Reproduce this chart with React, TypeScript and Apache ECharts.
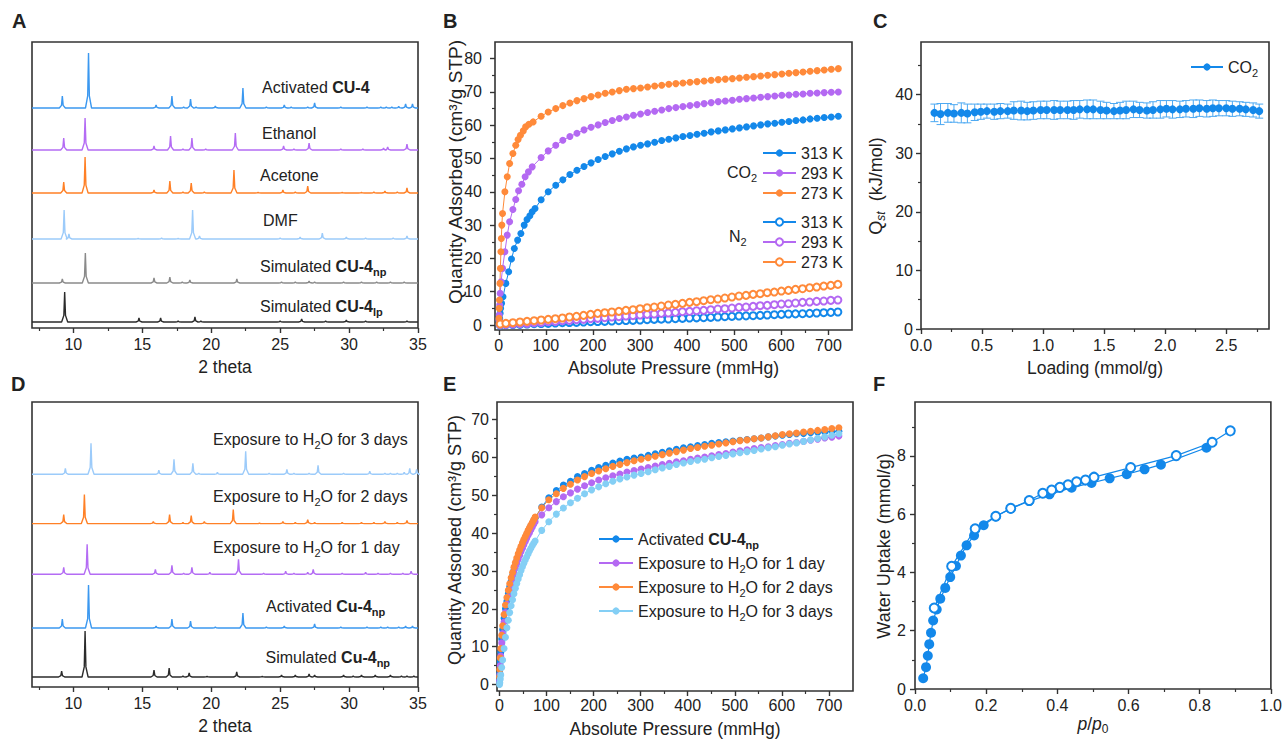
import React, { useEffect, useRef } from 'react';
import * as echarts from 'echarts';

const FONT = '"Liberation Sans", Arial, Helvetica, sans-serif';
const TXT = '#222222';
const AXIS = '#333333';

// ---------- colours ----------
const XRD_BLUE = '#3b98f0';
const XRD_PURPLE = '#b46cf4';
const XRD_ORANGE = '#ff8026';
const XRD_LIGHT = '#9ccbfa';
const XRD_GRAY = '#8a8a8a';
const XRD_BLACK = '#2b2b2b';
const BLUE = '#1388ea';
const PURPLE = '#b469f2';
const ORANGE = '#ff8a3a';
const SKY = '#84cff5';
const ERR = '#4da9f2';

// ---------- Panel A: PXRD (peak position, peak height) ----------
const A_ACTIVATED_BASE = 220;
const A_ACTIVATED = [[9.2, 12], [11.1, 55], [16.0, 3], [17.15, 12], [18.0, 1], [18.5, 9], [18.9, 1], [20.3, 2], [22.3, 20], [24.0, 1], [25.3, 3], [25.8, 1], [27.0, 1], [27.5, 5], [29.4, 1], [31.3, 1], [32.3, 1], [32.7, 1], [33.1, 1], [33.6, 1.5], [34.1, 4], [34.6, 4]];
const A_ETHANOL_BASE = 178;
const A_ETHANOL = [[9.3, 12], [10.85, 32], [15.85, 4], [17.05, 14], [17.95, 1], [18.6, 12], [19.6, 1], [21.75, 17], [25.25, 4], [26.0, 1], [27.1, 7], [29.4, 1], [31.0, 1], [32.5, 2], [32.8, 3], [34.2, 6]];
const A_ACETONE_BASE = 135;
const A_ACETONE = [[9.3, 11], [10.85, 36], [15.85, 3], [17.0, 12], [17.95, 1], [18.55, 10], [19.5, 1], [21.65, 23], [23.4, 0.5], [25.2, 3], [26.1, 1], [27.0, 7], [29.5, 0.5], [30.9, 0.5], [31.8, 1], [32.6, 2], [33.5, 1], [34.2, 5]];
const A_DMF_BASE = 89;
const A_DMF = [[9.33, 29], [9.68, 5], [14.7, 0.5], [16.4, 1], [17.6, 0.5], [18.65, 29], [19.15, 3], [25.0, 1], [26.45, 2], [28.06, 6], [29.8, 2], [31.2, 1], [33.2, 1], [34.2, 3]];
const A_SIMNP_BASE = 45;
const A_SIMNP = [[9.2, 4], [10.87, 30], [15.85, 5], [17.0, 6], [17.9, 1], [18.45, 3], [21.86, 4], [25.1, 1], [26.1, 1], [27.1, 2], [27.5, 1], [29.6, 1], [30.9, 1], [32.0, 1], [33.0, 1], [34.0, 1]];
const A_SIMLP_BASE = 6;
const A_SIMLP = [[9.37, 30], [14.76, 4], [16.33, 4], [17.6, 1], [18.82, 5], [19.25, 1], [25.0, 1], [26.56, 3], [28.3, 1], [29.8, 2], [31.2, 1], [34.2, 1]];

// ---------- Panel D: PXRD after water exposure ----------
const D_DAY3_BASE = 212.7;
const D_DAY3 = [[9.42, 6], [11.28, 31], [16.2, 4], [17.3, 15], [18.67, 11], [19.1, 1], [20.45, 2], [22.5, 23], [24.2, 1], [25.49, 5], [26.0, 1], [27.1, 1], [27.75, 9], [29.6, 1], [31.5, 3], [32.6, 1], [33.0, 1], [33.5, 1], [34.0, 2], [34.4, 6], [34.9, 5]];
const D_DAY2_BASE = 163.4;
const D_DAY2 = [[9.3, 9], [10.8, 29], [15.8, 2], [16.98, 9], [17.95, 1], [18.55, 8], [19.5, 2], [21.6, 14], [23.5, 0.5], [25.2, 2], [26.1, 1], [27.0, 4], [27.5, 1], [29.5, 1], [30.9, 1], [31.8, 1], [32.6, 2], [33.5, 1], [34.2, 3]];
const D_DAY1_BASE = 112.7;
const D_DAY1 = [[9.3, 7], [11.0, 30], [15.95, 5], [17.15, 9], [18.0, 1], [18.6, 7], [19.9, 2], [21.98, 15], [23.8, 1], [25.4, 3], [26.0, 1], [27.0, 2], [27.4, 5], [29.5, 1], [31.2, 2], [32.1, 1], [33.0, 1], [33.9, 1], [34.5, 3]];
const D_ACT_BASE = 59;
const D_ACT = [[9.2, 9], [11.1, 43], [16.0, 2], [17.15, 9], [18.5, 7], [20.3, 1], [22.3, 15], [24.0, 1], [25.3, 2], [27.5, 4], [29.4, 1], [31.3, 1], [32.3, 1], [32.8, 1], [33.6, 1], [34.1, 2], [34.6, 2]];
const D_SIM_BASE = 10;
const D_SIM = [[9.15, 6], [10.85, 46], [15.85, 7], [16.95, 9], [17.95, 1], [18.4, 4], [19.7, 0.5], [21.85, 5], [23.7, 0.5], [25.1, 2], [26.1, 2], [27.1, 3], [27.5, 2], [29.6, 2], [30.3, 1], [30.9, 2], [31.9, 2], [33.0, 2], [33.8, 1], [34.2, 1], [34.7, 1]];

// ---------- Panel B: CO2 / N2 isotherms ----------
const P_HIGH = [90, 105, 121, 136, 151, 166, 181, 196, 211, 226, 241, 256, 271, 286, 301, 316, 331, 346, 361, 376, 391, 406, 421, 436, 451, 466, 481, 496, 511, 526, 541, 556, 571, 586, 601, 616, 631, 646, 661, 676, 691, 706, 721];
const P_CO2_273_LOW = [0.5, 1, 1.5, 2.5, 3.5, 4.5, 5.5, 6.5, 8, 13, 18, 23, 30, 36, 41, 46, 52, 57, 64, 73];
const Q_CO2_273_LOW = [2, 5, 7.5, 12.5, 17, 22, 26, 30, 33.5, 40, 44.5, 48.5, 51.5, 54, 55.7, 57, 58.3, 59.5, 60.3, 61];
const Q_CO2_273_HIGH = [62.7, 64, 65, 65.9, 66.7, 67.4, 68, 68.6, 69.1, 69.6, 70, 70.4, 70.8, 71, 71.2, 71.5, 71.8, 72, 72.3, 72.5, 72.7, 72.9, 73.1, 73.3, 73.5, 73.7, 73.85, 74, 74.2, 74.4, 74.6, 74.8, 75, 75.2, 75.4, 75.6, 75.8, 76, 76.2, 76.4, 76.6, 76.8, 77];
const P_CO2_293_LOW = [0.5, 1, 2, 3, 5, 8, 13, 18, 23, 30, 36, 42, 49, 56, 63, 71];
const Q_CO2_293_LOW = [1.5, 3, 6, 9.5, 13, 17, 22, 27, 31, 34.7, 37.7, 40.3, 42.3, 44.5, 46, 47.5];
const Q_CO2_293_HIGH = [50.3, 52.3, 54, 55.5, 56.6, 57.6, 58.6, 59.4, 60.1, 60.8, 61.4, 62, 62.5, 63, 63.4, 63.8, 64.2, 64.6, 65, 65.3, 65.6, 65.9, 66.2, 66.5, 66.8, 67.1, 67.3, 67.5, 67.8, 68, 68.2, 68.4, 68.6, 68.8, 69, 69.1, 69.3, 69.4, 69.6, 69.7, 69.8, 69.9, 70];
const P_CO2_313_LOW = [1, 2, 3, 4, 6, 9, 15, 21, 27, 33, 40, 47, 54, 60, 66, 71, 77];
const Q_CO2_313_LOW = [1, 2, 3.5, 5, 6.5, 8.5, 12.5, 16, 19.8, 23, 25.5, 27.5, 30, 31.7, 32.8, 34, 35];
const Q_CO2_313_HIGH = [37.6, 40, 42, 43.6, 45.2, 46.5, 47.6, 48.7, 49.7, 50.6, 51.4, 52.2, 52.9, 53.5, 54, 54.4, 54.9, 55.4, 55.8, 56.2, 56.6, 56.9, 57.3, 57.6, 58, 58.3, 58.6, 58.9, 59.2, 59.5, 59.8, 60.1, 60.4, 60.6, 60.9, 61.1, 61.4, 61.6, 61.9, 62.1, 62.3, 62.5, 62.7];
const P_N2 = [3, 15, 30, 45, 60, 75, 90, 105, 120, 135, 150, 165, 180, 195, 210, 225, 240, 255, 270, 285, 300, 315, 330, 345, 360, 375, 390, 405, 420, 435, 450, 465, 480, 495, 510, 525, 540, 555, 570, 585, 600, 615, 630, 645, 660, 675, 690, 705, 720];
const Q_N2_273 = [0.3, 0.5, 0.7, 0.9, 1.1, 1.3, 1.5, 1.7, 1.9, 2.1, 2.4, 2.6, 2.9, 3.2, 3.5, 3.7, 3.9, 4.1, 4.4, 4.6, 4.9, 5.2, 5.4, 5.7, 6.0, 6.2, 6.5, 6.8, 7.0, 7.3, 7.6, 7.8, 8.1, 8.4, 8.7, 8.9, 9.2, 9.4, 9.7, 9.9, 10.2, 10.4, 10.7, 10.9, 11.2, 11.4, 11.7, 11.9, 12.2];
const Q_N2_293 = [0.1, 0.2, 0.3, 0.4, 0.5, 0.7, 0.8, 1.0, 1.1, 1.3, 1.4, 1.6, 1.7, 1.9, 2.0, 2.2, 2.4, 2.5, 2.7, 2.8, 3.0, 3.2, 3.3, 3.5, 3.6, 3.8, 4.0, 4.1, 4.3, 4.4, 4.6, 4.8, 4.9, 5.1, 5.3, 5.4, 5.6, 5.8, 5.9, 6.1, 6.3, 6.4, 6.6, 6.8, 6.9, 7.1, 7.2, 7.4, 7.5];
const Q_N2_313 = [0, 0.1, 0.15, 0.2, 0.3, 0.4, 0.45, 0.5, 0.6, 0.7, 0.75, 0.8, 0.9, 1.0, 1.05, 1.1, 1.2, 1.3, 1.35, 1.4, 1.5, 1.6, 1.7, 1.75, 1.8, 1.9, 2.0, 2.1, 2.15, 2.2, 2.3, 2.4, 2.5, 2.6, 2.7, 2.75, 2.8, 2.9, 3.0, 3.1, 3.2, 3.3, 3.35, 3.4, 3.5, 3.6, 3.7, 3.8, 3.9];

// ---------- Panel C: isosteric heat ----------
const LOADING = [0.11, 0.16, 0.22, 0.27, 0.33, 0.38, 0.44, 0.49, 0.54, 0.60, 0.65, 0.71, 0.76, 0.82, 0.87, 0.92, 0.98, 1.03, 1.09, 1.14, 1.20, 1.25, 1.30, 1.36, 1.41, 1.47, 1.52, 1.58, 1.63, 1.68, 1.74, 1.79, 1.85, 1.90, 1.96, 2.01, 2.06, 2.12, 2.17, 2.23, 2.28, 2.34, 2.39, 2.44, 2.50, 2.55, 2.61, 2.66, 2.72, 2.77];
const QST = [36.9, 36.7, 36.9, 36.8, 36.9, 36.8, 37.0, 37.1, 37.2, 37.1, 37.2, 37.2, 37.3, 37.3, 37.2, 37.3, 37.4, 37.4, 37.4, 37.4, 37.4, 37.4, 37.5, 37.5, 37.5, 37.4, 37.3, 37.2, 37.3, 37.4, 37.5, 37.4, 37.3, 37.4, 37.5, 37.6, 37.5, 37.5, 37.6, 37.6, 37.7, 37.6, 37.7, 37.7, 37.7, 37.6, 37.6, 37.5, 37.4, 37.2];
const QST_ERR = [1.5, 1.8, 1.6, 1.5, 1.7, 1.6, 1.4, 1.3, 1.2, 1.3, 1.3, 1.2, 1.5, 1.6, 1.5, 1.5, 1.5, 1.5, 1.6, 1.5, 1.5, 1.6, 1.5, 1.6, 1.6, 1.5, 1.4, 1.3, 1.4, 1.5, 1.4, 1.3, 1.3, 1.4, 1.5, 1.4, 1.5, 1.4, 1.4, 1.5, 1.4, 1.4, 1.4, 1.3, 1.3, 1.3, 1.2, 1.2, 1.2, 1.2];

// ---------- Panel E: CO2 isotherms after water exposure ----------
const P_E_LOW = [0.5, 1, 2, 3, 5, 7, 10, 13, 16, 19, 22, 25, 28, 31, 34, 37, 40, 43, 46, 49, 52, 55, 58, 61, 64, 67, 70, 73, 76];
const E_ACT_LOW = [1, 3, 6, 8.5, 12, 14.5, 17.5, 20, 22, 24, 25.8, 27.3, 28.8, 30.2, 31.5, 32.7, 33.8, 34.9, 35.9, 36.9, 37.8, 38.7, 39.5, 40.3, 41.1, 41.9, 42.6, 43.3, 44];
const E_ACT_HIGH = [46.9, 49.3, 51.2, 52.7, 53.7, 54.9, 55.7, 56.6, 57.3, 57.9, 58.5, 59, 59.5, 59.8, 60.1, 60.5, 60.9, 61.3, 61.7, 62.1, 62.5, 62.8, 63.1, 63.4, 63.7, 63.9, 64.1, 64.3, 64.5, 64.7, 64.9, 65.1, 65.4, 65.6, 65.8, 66, 66.2, 66.3, 66.5, 66.6, 66.7, 66.8, 66.9];
const E_DAY1_LOW = [1, 2.5, 5, 7.5, 11, 13.5, 16.5, 19, 21.2, 23.2, 25, 26.6, 28, 29.4, 30.7, 31.9, 33, 34.1, 35.1, 36, 36.9, 37.8, 38.6, 39.4, 40.1, 40.9, 41.6, 42.3, 43];
const E_DAY1_HIGH = [44.8, 46.7, 48.3, 49.6, 50.6, 51.6, 52.5, 53.3, 54, 54.6, 55.1, 55.6, 56.1, 56.5, 56.9, 57.3, 57.7, 58.1, 58.4, 58.8, 59.1, 59.5, 59.8, 60.1, 60.4, 60.7, 61, 61.4, 61.7, 62, 62.3, 62.6, 62.8, 63.1, 63.4, 63.7, 63.9, 64.2, 64.5, 64.8, 65.1, 65.3, 65.6];
const E_DAY2_LOW = [2, 4, 7, 9.5, 13, 15.5, 18.5, 21, 23, 24.9, 26.6, 28.2, 29.6, 31, 32.2, 33.4, 34.5, 35.5, 36.5, 37.4, 38.3, 39.1, 39.9, 40.7, 41.4, 42.1, 42.8, 43.5, 44.2];
const E_DAY2_HIGH = [46.7, 48.8, 50.4, 51.8, 52.9, 54, 54.9, 55.7, 56.4, 57, 57.6, 58.1, 58.6, 59.1, 59.5, 59.9, 60.3, 60.7, 61.1, 61.5, 61.9, 62.3, 62.6, 62.9, 63.2, 63.5, 63.8, 64.1, 64.4, 64.6, 64.9, 65.1, 65.4, 65.7, 66, 66.2, 66.4, 66.7, 66.9, 67.1, 67.3, 67.6, 67.8];
const E_DAY3_LOW = [0, 0.5, 1.5, 2.5, 4.5, 6.5, 9.5, 12.5, 15, 17, 19, 20.8, 22.4, 24, 25.4, 26.7, 27.9, 29, 30.1, 31.1, 32, 32.9, 33.7, 34.5, 35.3, 36, 36.7, 37.3, 37.9];
const E_DAY3_HIGH = [40.7, 43, 45, 46.6, 48, 49.2, 50.4, 51.4, 52.2, 53, 53.7, 54.3, 54.8, 55.3, 55.7, 56.2, 56.7, 57.2, 57.6, 58.1, 58.5, 58.9, 59.2, 59.5, 59.9, 60.2, 60.5, 60.9, 61.2, 61.5, 61.8, 62.2, 62.5, 62.8, 63.2, 63.5, 63.8, 64.2, 64.6, 65, 65.4, 65.8, 66.2];

// ---------- Panel F: water isotherm ----------
const F_ADS_X = [0.023, 0.031, 0.036, 0.040, 0.045, 0.051, 0.061, 0.071, 0.085, 0.099, 0.115, 0.129, 0.145, 0.166, 0.193, 0.227, 0.269, 0.321, 0.378, 0.440, 0.496, 0.547, 0.595, 0.645, 0.691, 0.819];
const F_ADS_Y = [0.37, 0.75, 1.14, 1.54, 1.93, 2.35, 2.73, 3.10, 3.47, 3.84, 4.22, 4.58, 4.93, 5.27, 5.62, 5.92, 6.19, 6.45, 6.68, 6.91, 7.07, 7.23, 7.37, 7.54, 7.70, 8.28];
const F_DES_X = [0.886, 0.835, 0.734, 0.606, 0.503, 0.479, 0.454, 0.430, 0.407, 0.384, 0.359, 0.321, 0.269, 0.227, 0.169, 0.103, 0.054];
const F_DES_Y = [8.86, 8.47, 8.01, 7.60, 7.27, 7.17, 7.11, 7.01, 6.92, 6.83, 6.72, 6.47, 6.20, 5.93, 5.50, 4.21, 2.78];

// ---------- ticks ----------
const XRD_MAJOR = [10, 15, 20, 25, 30, 35];
const XRD_MINOR = [7.5, 12.5, 17.5, 22.5, 27.5, 32.5];
const P_MAJOR = [0, 100, 200, 300, 400, 500, 600, 700];
const P_MINOR = [50, 150, 250, 350, 450, 550, 650];
const B_Y_MAJOR = [0, 10, 20, 30, 40, 50, 60, 70, 80];
const B_Y_MINOR = [5, 15, 25, 35, 45, 55, 65, 75];
const C_X_MAJOR = [0, 0.5, 1.0, 1.5, 2.0, 2.5];
const C_X_MINOR = [0.25, 0.75, 1.25, 1.75, 2.25, 2.75];
const C_Y_MAJOR = [0, 10, 20, 30, 40];
const C_Y_MINOR = [5, 15, 25, 35, 45];
const E_Y_MAJOR = [0, 10, 20, 30, 40, 50, 60, 70];
const E_Y_MINOR = [5, 15, 25, 35, 45, 55, 65];
const F_X_MAJOR = [0, 0.2, 0.4, 0.6, 0.8, 1.0];
const F_X_MINOR = [0.1, 0.3, 0.5, 0.7, 0.9];
const F_Y_MAJOR = [0, 2, 4, 6, 8];
const F_Y_MINOR = [1, 3, 5, 7, 9];

const PEAK_HALF = 0.22;
const PEAK_SHOULDER = 0.06;

function buildPattern(base: number, peaks: number[][]): number[][] {
  const pts: number[][] = [[7, base]];
  for (const [p, h] of peaks) {
    pts.push([p - PEAK_HALF, base], [p - PEAK_SHOULDER, base + h * 0.22], [p, base + h], [p + PEAK_SHOULDER, base + h * 0.22], [p + PEAK_HALF, base]);
  }
  pts.push([35, base]);
  return pts;
}

function zip(xs: number[], ys: number[]): number[][] {
  return xs.map((x, i) => [x, ys[i]]);
}

const RICH_ZR: any = {
  b: { fontSize: 16, fontFamily: FONT, fontWeight: 'bold', fill: TXT, lineHeight: 22 },
  s: { fontSize: 11, fontFamily: FONT, fill: TXT, lineHeight: 12, verticalAlign: 'bottom' },
  bs: { fontSize: 11, fontFamily: FONT, fontWeight: 'bold', fill: TXT, lineHeight: 12, verticalAlign: 'bottom' },
  i: { fontSize: 18, fontFamily: FONT, fontStyle: 'italic', fill: TXT, lineHeight: 22 },
  si: { fontSize: 12, fontFamily: FONT, fontStyle: 'italic', fill: TXT, lineHeight: 12, verticalAlign: 'bottom' },
};

const RICH_EC: any = {
  b: { fontSize: 16, fontFamily: FONT, fontWeight: 'bold', color: TXT, lineHeight: 22 },
  s: { fontSize: 11, fontFamily: FONT, color: TXT, lineHeight: 12, verticalAlign: 'bottom' },
  bs: { fontSize: 11, fontFamily: FONT, fontWeight: 'bold', color: TXT, lineHeight: 12, verticalAlign: 'bottom' },
  i: { fontSize: 17.5, fontFamily: FONT, fontStyle: 'italic', color: TXT, lineHeight: 22 },
  s0: { fontSize: 12, fontFamily: FONT, color: TXT, lineHeight: 12, verticalAlign: 'bottom' },
};

function textEl(x: number, y: number, text: string, size = 16, weight: any = 'normal', rotation = 0, align: any = 'left') {
  return {
    type: 'text', x, y, rotation, silent: true, z: 100,
    style: { text, fill: TXT, fontSize: size, fontFamily: FONT, fontWeight: weight, align, verticalAlign: 'middle', lineHeight: 22, rich: RICH_ZR },
  };
}

function buildOption(): any {
  const grid = [
    { left: 32, top: 42, width: 386, height: 286 },
    { left: 495, top: 42, width: 357, height: 288 },
    { left: 921, top: 42, width: 348, height: 287 },
    { left: 32, top: 402, width: 386, height: 285 },
    { left: 497, top: 402, width: 356, height: 289 },
    { left: 915, top: 402, width: 357, height: 287 },
  ].map((g) => ({ ...g, show: true, borderColor: AXIS, borderWidth: 1.6, backgroundColor: 'transparent', containLabel: false }));

  const xAxis: any[] = [];
  const yAxis: any[] = [];
  function addAxis(list: any[], dim: 'x' | 'y', s: any): number {
    const base: any = {
      type: 'value', gridIndex: s.grid, min: s.min, max: s.max,
      position: dim === 'x' ? 'bottom' : 'left',
      axisLine: { show: false, onZero: false },
      splitLine: { show: false },
    };
    const idx = list.length;
    const hasMajor = s.major && s.major.length > 0;
    list.push({
      ...base,
      axisTick: hasMajor ? { show: true, customValues: s.major, length: 5, lineStyle: { color: AXIS, width: 1.4 } } : { show: false },
      axisLabel: hasMajor ? {
        show: true, customValues: s.major, fontSize: 16, fontFamily: FONT, color: TXT, margin: s.margin,
        formatter: (v: number) => (s.dec ? v.toFixed(s.dec) : String(Math.round(v))),
      } : { show: false },
      name: s.name || '', nameLocation: 'middle', nameGap: s.nameGap || 30,
      nameTextStyle: { fontSize: 17.5, fontFamily: FONT, color: TXT, rich: RICH_EC },
    });
    if (s.minor && s.minor.length) {
      list.push({ ...base, axisTick: { show: true, customValues: s.minor, length: 3, lineStyle: { color: AXIS, width: 1.2 } }, axisLabel: { show: false } });
    }
    return idx;
  }

  const ax = addAxis(xAxis, 'x', { grid: 0, min: 7, max: 35, major: XRD_MAJOR, minor: XRD_MINOR, margin: 8, name: '2 theta', nameGap: 30 });
  const ay = addAxis(yAxis, 'y', { grid: 0, min: 0, max: 286, major: [], minor: [] });
  const bx = addAxis(xAxis, 'x', { grid: 1, min: -8, max: 750, major: P_MAJOR, minor: P_MINOR, margin: 7, name: 'Absolute Pressure (mmHg)', nameGap: 29 });
  const by = addAxis(yAxis, 'y', { grid: 1, min: -1.5, max: 85, major: B_Y_MAJOR, minor: B_Y_MINOR, margin: 13 });
  const cx = addAxis(xAxis, 'x', { grid: 2, min: 0, max: 2.85, major: C_X_MAJOR, minor: C_X_MINOR, margin: 8, dec: 1, name: 'Loading (mmol/g)', nameGap: 30 });
  const cy = addAxis(yAxis, 'y', { grid: 2, min: 0, max: 49, major: C_Y_MAJOR, minor: C_Y_MINOR, margin: 8 });
  const dx = addAxis(xAxis, 'x', { grid: 3, min: 7, max: 35, major: XRD_MAJOR, minor: XRD_MINOR, margin: 8, name: '2 theta', nameGap: 30 });
  const dy = addAxis(yAxis, 'y', { grid: 3, min: 0, max: 285, major: [], minor: [] });
  const ex = addAxis(xAxis, 'x', { grid: 4, min: -5, max: 751, major: P_MAJOR, minor: P_MINOR, margin: 6, name: 'Absolute Pressure (mmHg)', nameGap: 29 });
  const ey = addAxis(yAxis, 'y', { grid: 4, min: -1.7, max: 74.6, major: E_Y_MAJOR, minor: E_Y_MINOR, margin: 8 });
  const fx = addAxis(xAxis, 'x', { grid: 5, min: 0, max: 1, major: F_X_MAJOR, minor: F_X_MINOR, margin: 8, dec: 1, name: '{i|p}/{i|p}{s0|0}', nameGap: 24 });
  const fy = addAxis(yAxis, 'y', { grid: 5, min: 0, max: 9.85, major: F_Y_MAJOR, minor: F_Y_MINOR, margin: 9 });

  const series: any[] = [];
  const xrd = (xi: number, yi: number, base: number, peaks: number[][], color: string) => {
    series.push({ type: 'line', xAxisIndex: xi, yAxisIndex: yi, data: buildPattern(base, peaks), symbol: 'none', silent: true, lineStyle: { color, width: 1.4 } });
  };
  xrd(ax, ay, A_ACTIVATED_BASE, A_ACTIVATED, XRD_BLUE);
  xrd(ax, ay, A_ETHANOL_BASE, A_ETHANOL, XRD_PURPLE);
  xrd(ax, ay, A_ACETONE_BASE, A_ACETONE, XRD_ORANGE);
  xrd(ax, ay, A_DMF_BASE, A_DMF, XRD_LIGHT);
  xrd(ax, ay, A_SIMNP_BASE, A_SIMNP, XRD_GRAY);
  xrd(ax, ay, A_SIMLP_BASE, A_SIMLP, XRD_BLACK);
  xrd(dx, dy, D_DAY3_BASE, D_DAY3, XRD_LIGHT);
  xrd(dx, dy, D_DAY2_BASE, D_DAY2, XRD_ORANGE);
  xrd(dx, dy, D_DAY1_BASE, D_DAY1, XRD_PURPLE);
  xrd(dx, dy, D_ACT_BASE, D_ACT, XRD_BLUE);
  xrd(dx, dy, D_SIM_BASE, D_SIM, XRD_BLACK);

  const iso = (name: string, xi: number, yi: number, data: number[][], color: string, empty: boolean, size = 7) => {
    series.push({
      type: 'line', name, xAxisIndex: xi, yAxisIndex: yi, data,
      symbol: empty ? 'emptyCircle' : 'circle', symbolSize: size, showAllSymbol: true,
      itemStyle: empty ? { color, borderColor: color, borderWidth: 1.3 } : { color },
      lineStyle: { color, width: 1 },
    });
  };
  iso('CO2 313 K', bx, by, zip([...P_CO2_313_LOW, ...P_HIGH], [...Q_CO2_313_LOW, ...Q_CO2_313_HIGH]), BLUE, false);
  iso('CO2 293 K', bx, by, zip([...P_CO2_293_LOW, ...P_HIGH], [...Q_CO2_293_LOW, ...Q_CO2_293_HIGH]), PURPLE, false);
  iso('CO2 273 K', bx, by, zip([...P_CO2_273_LOW, ...P_HIGH], [...Q_CO2_273_LOW, ...Q_CO2_273_HIGH]), ORANGE, false);
  iso('N2 313 K', bx, by, zip(P_N2, Q_N2_313), BLUE, true);
  iso('N2 293 K', bx, by, zip(P_N2, Q_N2_293), PURPLE, true);
  iso('N2 273 K', bx, by, zip(P_N2, Q_N2_273), ORANGE, true);

  // Panel C
  series.push({
    type: 'custom', name: 'Qst err', xAxisIndex: cx, yAxisIndex: cy, silent: true,
    data: LOADING.map((x, i) => [x, QST[i], QST_ERR[i]]),
    encode: { x: 0, y: 1 },
    renderItem: (params: any, api: any) => {
      const x = api.value(0); const y = api.value(1); const e = api.value(2);
      const t = api.coord([x, y + e]); const b = api.coord([x, y - e]);
      const hw = 4; const st = { stroke: ERR, lineWidth: 1 };
      return {
        type: 'group', children: [
          { type: 'line', shape: { x1: t[0], y1: t[1], x2: b[0], y2: b[1] }, style: st },
          { type: 'line', shape: { x1: t[0] - hw, y1: t[1], x2: t[0] + hw, y2: t[1] }, style: st },
          { type: 'line', shape: { x1: b[0] - hw, y1: b[1], x2: b[0] + hw, y2: b[1] }, style: st },
        ],
      };
    },
  });
  iso('CO2 Qst', cx, cy, zip(LOADING, QST), BLUE, false, 8);

  // Panel E
  iso('E act', ex, ey, zip([...P_E_LOW, ...P_HIGH], [...E_ACT_LOW, ...E_ACT_HIGH]), BLUE, false);
  iso('E 1 day', ex, ey, zip([...P_E_LOW, ...P_HIGH], [...E_DAY1_LOW, ...E_DAY1_HIGH]), PURPLE, false);
  iso('E 2 days', ex, ey, zip([...P_E_LOW, ...P_HIGH], [...E_DAY2_LOW, ...E_DAY2_HIGH]), ORANGE, false);
  iso('E 3 days', ex, ey, zip([...P_E_LOW, ...P_HIGH], [...E_DAY3_LOW, ...E_DAY3_HIGH]), SKY, false);

  // Panel F
  series.push({
    type: 'line', name: 'F ads', xAxisIndex: fx, yAxisIndex: fy, data: zip(F_ADS_X, F_ADS_Y),
    symbol: 'circle', symbolSize: 10, itemStyle: { color: BLUE }, lineStyle: { color: BLUE, width: 1.2 },
  });
  series.push({
    type: 'line', name: 'F des', xAxisIndex: fx, yAxisIndex: fy, data: zip(F_DES_X, F_DES_Y),
    symbol: 'circle', symbolSize: 9, itemStyle: { color: '#ffffff', borderColor: BLUE, borderWidth: 2 }, lineStyle: { color: BLUE, width: 1.2 },
  });

  const legBase = {
    orient: 'vertical', selectedMode: false, itemWidth: 33, itemHeight: 9, padding: 0,
    textStyle: { fontSize: 16, fontFamily: FONT, color: TXT, lineHeight: 18, rich: RICH_EC },
  };
  const E_LEG: Record<string, string> = {
    'E act': 'Activated {b|CU-4}{bs|np}',
    'E 1 day': 'Exposure to H{s|2}O for 1 day',
    'E 2 days': 'Exposure to H{s|2}O for 2 days',
    'E 3 days': 'Exposure to H{s|2}O for 3 days',
  };
  const legend = [
    { ...legBase, data: ['CO2 313 K', 'CO2 293 K', 'CO2 273 K'], left: 762, top: 144, itemGap: 2, formatter: (n: string) => n.replace(/^\S+ /, '') },
    { ...legBase, data: ['N2 313 K', 'N2 293 K', 'N2 273 K'], left: 762, top: 213, itemGap: 2, formatter: (n: string) => n.replace(/^\S+ /, '') },
    { ...legBase, data: ['CO2 Qst'], left: 1190, top: 56, itemWidth: 32, formatter: () => 'CO{s|2}', textStyle: { ...legBase.textStyle, lineHeight: 22 } },
    { ...legBase, data: ['E act', 'E 1 day', 'E 2 days', 'E 3 days'], left: 598, top: 528, itemWidth: 34, itemGap: 2, formatter: (n: string) => E_LEG[n], textStyle: { ...legBase.textStyle, lineHeight: 22 } },
  ];

  const graphic = [
    textEl(12, 21, 'A', 20, 'bold'),
    textEl(443, 21, 'B', 20, 'bold'),
    textEl(873, 21, 'C', 20, 'bold'),
    textEl(11, 384, 'D', 20, 'bold'),
    textEl(443, 384, 'E', 20, 'bold'),
    textEl(873, 384, 'F', 20, 'bold'),
    // panel A annotations
    textEl(262, 87, 'Activated {b|CU-4}'),
    textEl(262, 133, 'Ethanol'),
    textEl(260, 175, 'Acetone'),
    textEl(263, 220, 'DMF'),
    textEl(260, 266.5, 'Simulated {b|CU-4}{bs|np}'),
    textEl(260, 306.5, 'Simulated {b|CU-4}{bs|lp}'),
    // panel D annotations
    textEl(213, 439, 'Exposure to H{s|2}O for 3 days'),
    textEl(213, 496.5, 'Exposure to H{s|2}O for 2 days'),
    textEl(213, 547, 'Exposure to H{s|2}O for 1 day'),
    textEl(266, 606, 'Activated {b|Cu-4}{bs|np}'),
    textEl(265.5, 657.5, 'Simulated {b|Cu-4}{bs|np}'),
    // panel B gas labels
    textEl(727, 172.5, 'CO{s|2}'),
    textEl(729, 236, 'N{s|2}'),
    // y-axis titles
    textEl(455, 172, 'Quantity Adsorbed (cm\u00b3/g STP)', 19, 'normal', Math.PI / 2, 'center'),
    textEl(876, 186, 'Q{si|st}  (kJ/mol)', 18, 'normal', Math.PI / 2, 'center'),
    textEl(455, 540, 'Quantity Adsorbed (cm\u00b3/g STP)', 18, 'normal', Math.PI / 2, 'center'),
    textEl(884, 546, 'Water Uptake (mmol/g)', 18, 'normal', Math.PI / 2, 'center'),
  ];

  return {
    animation: false,
    backgroundColor: '#ffffff',
    textStyle: { fontFamily: FONT },
    grid, xAxis, yAxis, series, legend, graphic,
  };
}

export default function App() {
  const ref = useRef<HTMLDivElement>(null);
  useEffect(() => {
    if (!ref.current) return;
    const chart = echarts.init(ref.current, undefined, { renderer: 'svg' });
    chart.setOption(buildOption());
    return () => chart.dispose();
  }, []);
  return <div ref={ref} style={{ position: 'fixed', left: 0, top: 0, width: 1285, height: 741, background: '#fff' }} />;
}
